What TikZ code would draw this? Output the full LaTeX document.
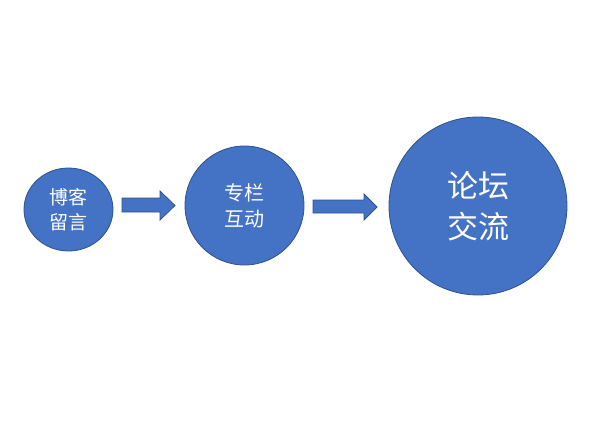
\documentclass[tikz,border=0pt]{standalone}
\usepackage{fontspec}
\usetikzlibrary{shapes.geometric}
\newfontfamily\cjk{Noto Sans CJK SC}
\definecolor{bfill}{HTML}{4472C4}
\definecolor{bline}{HTML}{2F528F}
\begin{document}
\begin{tikzpicture}[x=1pt,y=-1pt,
  bubble/.style={ellipse, draw=bline, fill=bfill, line width=0.8pt, text=white, align=center, inner sep=0pt},
  blockarrow/.style={draw=bline, fill=bfill, line width=0.8pt, line join=miter}]
\useasboundingbox (0,0) rectangle (614,423);
\node[bubble, minimum width=89pt, minimum height=83pt, font=\cjk\fontsize{19}{25}\selectfont] (a) at (68.5,209.5) {博客\\留言};
\node[bubble, minimum width=119pt, minimum height=119pt, font=\cjk\fontsize{20}{26}\selectfont] (b) at (244.5,205.5) {专栏\\互动};
\node[bubble, minimum width=178pt, minimum height=178pt, font=\cjk\fontsize{31}{41}\selectfont] (c) at (478,206) {论坛\\交流};
\path[blockarrow] (122,198) -- (160,198) -- (160,191) -- (175,205.5) -- (160,220) -- (160,212) -- (122,212) -- cycle;
\path[blockarrow] (313,200) -- (364,200) -- (364,194) -- (377,207) -- (364,220) -- (364,213) -- (313,213) -- cycle;
\end{tikzpicture}
\end{document}
